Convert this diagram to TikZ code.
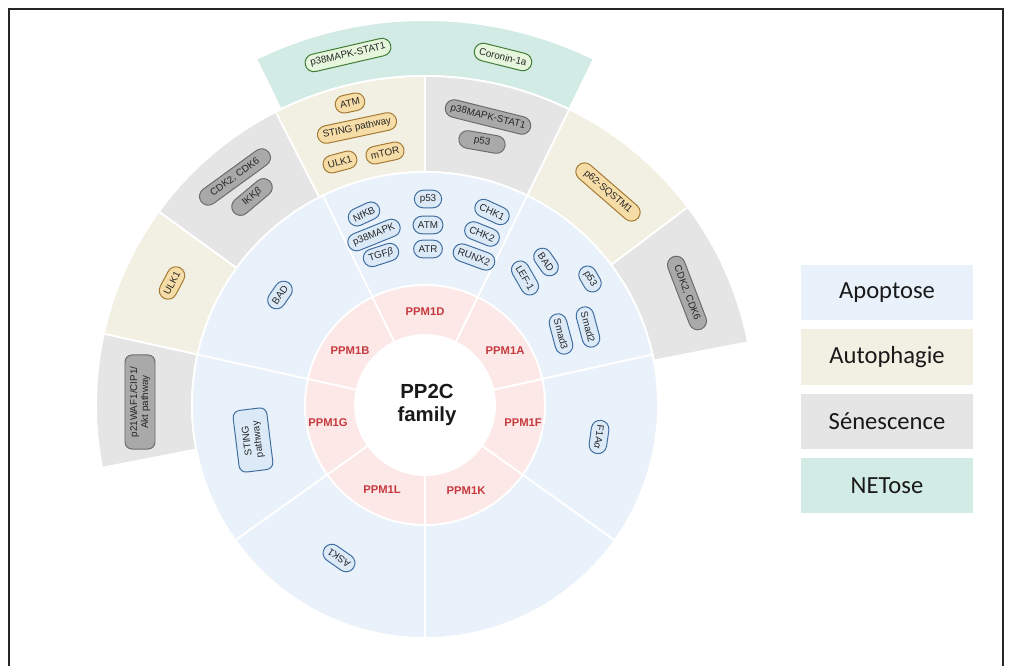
\documentclass[tikz,border=0pt]{standalone}
\usepackage{fontspec}
\setmainfont{Liberation Sans}
\newfontfamily\legfont{Carlito}
\usetikzlibrary{calc,shapes.misc}
\definecolor{blueF}{HTML}{E9F1FB}
\definecolor{pinkF}{HTML}{FDE8E8}
\definecolor{beigeF}{HTML}{F2F0E2}
\definecolor{grayF}{HTML}{E5E5E5}
\definecolor{tealF}{HTML}{D2EBE5}
\definecolor{bpF}{HTML}{DCEAF8}
\definecolor{bpD}{HTML}{3F6D9E}
\definecolor{ypF}{HTML}{F6DDA8}
\definecolor{ypD}{HTML}{A37934}
\definecolor{gpF}{HTML}{A9A9A9}
\definecolor{gpD}{HTML}{6B6B6B}
\definecolor{tpF}{HTML}{E5F6DC}
\definecolor{tpD}{HTML}{3F7A37}
\definecolor{ppmred}{HTML}{C53A3F}
\newcommand{\ringsect}[5]{\filldraw[fill=#1,draw=white,line width=1.3pt] ($(C)+(#2:{#4*0.025cm})$) arc[start angle=#2,end angle=#3,radius={#4*0.025cm}] -- ($(C)+(#3:{#5*0.025cm})$) arc[start angle=#3,end angle=#2,radius={#5*0.025cm}] -- cycle;}
\tikzset{
 pill/.style={rounded rectangle, draw, line width=0.7pt, minimum height=0.44cm, inner xsep=3pt, inner ysep=1pt, font=\fontsize{7}{8}\selectfont, text=black!85},
 bpill/.style={pill, fill=bpF, draw=bpD},
 ypill/.style={pill, fill=ypF, draw=ypD},
 gpill/.style={pill, fill=gpF, draw=gpD},
 tpill/.style={pill, fill=tpF, draw=tpD},
 ppm/.style={font=\bfseries\fontsize{8}{9}\selectfont, text=ppmred},
 legbox/.style={minimum width=4.3cm, minimum height=1.38cm, inner sep=0pt, font=\legfont\fontsize{17.5}{19}\selectfont, text=black!90}
}
\begin{document}
\begin{tikzpicture}[x=0.025cm,y=0.025cm]
\useasboundingbox (0,0) rectangle (1011,666);
\coordinate (C) at (425,261);
% frame
\draw[line width=1.1pt, black!85] (9,0) -- (9,657) -- (1003,657) -- (1003,0);
% NETose ring
\ringsect{tealF}{64}{116}{329}{385}
% second ring
\ringsect{grayF}{11}{37}{233}{329}
\ringsect{beigeF}{37}{64}{233}{329}
\ringsect{grayF}{64}{90}{233}{329}
\ringsect{beigeF}{90}{117}{233}{329}
\ringsect{grayF}{117}{144}{233}{329}
\ringsect{beigeF}{144}{167.5}{233}{329}
\ringsect{grayF}{167.5}{191}{233}{329}
% apoptose ring
\ringsect{blueF}{12.5}{64}{120}{233}
\ringsect{blueF}{64}{116}{120}{233}
\ringsect{blueF}{116}{167.5}{120}{233}
\ringsect{blueF}{167.5}{215.5}{120}{233}
\ringsect{blueF}{215.5}{270}{120}{233}
\ringsect{blueF}{270}{324.5}{120}{233}
\ringsect{blueF}{-35.5}{12.5}{120}{233}
% PPM ring
\ringsect{pinkF}{12.5}{64}{70}{120}
\ringsect{pinkF}{64}{116}{70}{120}
\ringsect{pinkF}{116}{167.5}{70}{120}
\ringsect{pinkF}{167.5}{215.5}{70}{120}
\ringsect{pinkF}{215.5}{270}{70}{120}
\ringsect{pinkF}{270}{324.5}{70}{120}
\ringsect{pinkF}{-35.5}{12.5}{70}{120}
\fill[white] (C) circle[radius={69*0.025cm}];
% center
\node[font=\bfseries\fontsize{14.5}{17}\selectfont, align=center, text=black!90] (pp2c) at (427,261) {PP2C\\family};
% PPM labels
\node[ppm] (p1d) at (425,354) {PPM1D};
\node[ppm] (p1a) at (505,315) {PPM1A};
\node[ppm] (p1b) at (350,315) {PPM1B};
\node[ppm] (p1g) at (328,243) {PPM1G};
\node[ppm] (p1f) at (523,243) {PPM1F};
\node[ppm] (p1l) at (382,176) {PPM1L};
\node[ppm] (p1k) at (466,175) {PPM1K};
% NETose pills
\node[tpill, rotate=13] (nt1) at (348,611) {p38MAPK-STAT1};
\node[tpill, rotate=-14] (nt2) at (503,609) {Coronin-1a};
% autophagy top
\node[ypill, rotate=12] (at1) at (350,563) {ATM};
\node[ypill, rotate=12] (at2) at (357,538) {STING pathway};
\node[ypill, rotate=15] (at3) at (340,504) {ULK1};
\node[ypill, rotate=12] (at4) at (385,513) {mTOR};
% senescence top-right
\node[gpill, rotate=-14] (s1) at (488,549) {p38MAPK-STAT1};
\node[gpill, rotate=-10, minimum width=1.38cm] (s2) at (482,524) {p53};
% senescence left
\node[gpill, rotate=36, minimum width=2.3cm] (s3) at (235,489) {CDK2, CDK6};
\node[gpill, rotate=40, minimum width=1.4cm] (s4) at (252,469) {IKK{\itshape β}};
% autophagy left
\node[ypill, rotate=62] (a5) at (172,383) {ULK1};
% senescence left-bottom
\node[pill, rectangle, rounded corners=5pt, fill=gpF, draw=gpD, rotate=90, align=center, minimum width=2.35cm, minimum height=0.75cm, font=\fontsize{7}{7.8}\selectfont] (s5) at (140,264) {p21WAF1/CIP1/\\Akt pathway};
% autophagy right
\node[ypill, rotate=-41, minimum width=2.2cm] (a6) at (608,474) {p62-SQSTM1};
% senescence right
\node[gpill, rotate=-69, minimum width=2.15cm] (s6) at (687,373) {CDK2, CDK6};
% apoptose top
\node[bpill] (b1) at (428,467) {p53};
\node[bpill] (b2) at (428,441) {ATM};
\node[bpill] (b3) at (428,417) {ATR};
\node[bpill, rotate=25] (b4) at (364,452) {NfKB};
\node[bpill, rotate=22] (b5) at (374,431) {p38MAPK};
\node[bpill, rotate=18] (b6) at (381,411) {TGF{\itshape β}};
\node[bpill, rotate=-25] (b7) at (492,454) {CHK1};
\node[bpill, rotate=-22] (b8) at (482,432) {CHK2};
\node[bpill, rotate=-20] (b9) at (474,409) {RUNX2};
% apoptose right-upper
\node[bpill, rotate=-55] (b10) at (546,404) {BAD};
\node[bpill, rotate=-60] (b11) at (525,388) {LEF-1};
\node[bpill, rotate=-60] (b12) at (590,387) {p53};
\node[bpill, rotate=-75] (b13) at (588,339) {Smad2};
\node[bpill, rotate=-75] (b14) at (561,332) {Smad3};
% apoptose others
\node[bpill, rotate=55] (b15) at (280,371) {BAD};
\node[pill, rectangle, rounded corners=5pt, fill=bpF, draw=bpD, rotate=97, align=center, minimum width=1.55cm, minimum height=0.85cm, font=\fontsize{7}{7.8}\selectfont] (b16) at (253,226) {STING\\pathway};
\node[bpill, rotate=145] (b17) at (339,108) {ASK1};
\node[bpill, rotate=-98] (b18) at (599,229) {F1A{\itshape α}};
% legend
\node[legbox, fill=blueF] (lg1) at (887,373.5) {Apoptose};
\node[legbox, fill=beigeF] (lg2) at (887,309) {Autophagie};
\node[legbox, fill=grayF] (lg3) at (887,244.5) {Sénescence};
\node[legbox, fill=tealF] (lg4) at (887,180.5) {NETose};
\end{tikzpicture}
\end{document}
